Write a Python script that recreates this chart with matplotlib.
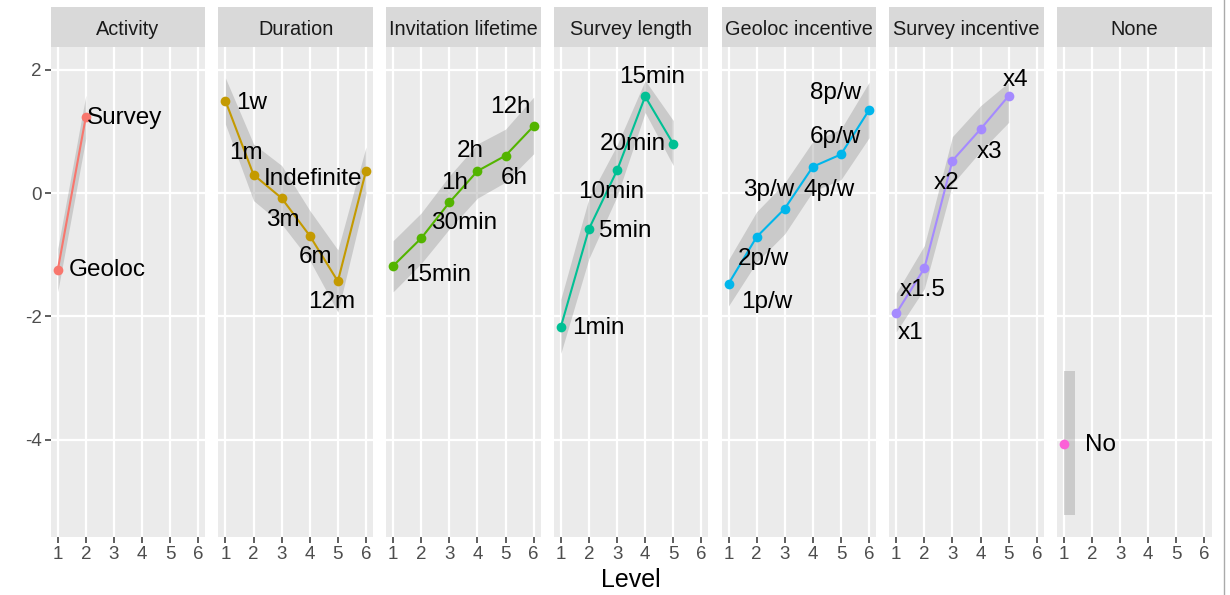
# imports
import numpy as np
import matplotlib.pyplot as plt
from matplotlib.lines import Line2D

plt.rcParams['font.family'] = ['Liberation Sans', 'DejaVu Sans']
plt.rcParams['axes.unicode_minus'] = False

# data: effect estimate per attribute level, with lower/upper band
facets = ['Activity', 'Duration', 'Invitation lifetime', 'Survey length',
          'Geoloc incentive', 'Survey incentive', 'None']
colors = ['#F8766D', '#C49A00', '#53B400', '#00C094', '#00B6EB', '#A58AFF', '#FB61D7']

activity_labels = ['Geoloc', 'Survey']
activity_est = [-1.25, 1.24]
activity_lo = [-1.60, 0.89]
activity_hi = [-0.90, 1.59]

duration_labels = ['1w', '1m', '3m', '6m', '12m', 'Indefinite']
duration_est = [1.50, 0.30, -0.08, -0.69, -1.43, 0.36]
duration_lo = [1.12, -0.12, -0.50, -1.09, -1.93, -0.02]
duration_hi = [1.87, 0.80, 0.45, -0.28, -0.92, 0.75]

invitation_labels = ['15min', '30min', '1h', '2h', '6h', '12h']
invitation_est = [-1.18, -0.73, -0.15, 0.36, 0.61, 1.09]
invitation_lo = [-1.60, -1.14, -0.58, -0.08, 0.18, 0.64]
invitation_hi = [-0.77, -0.32, 0.28, 0.80, 1.04, 1.56]

length_labels = ['1min', '5min', '10min', '15min', '20min']
length_est = [-2.17, -0.58, 0.37, 1.57, 0.80]
length_lo = [-2.60, -1.06, -0.05, 1.31, 0.45]
length_hi = [-1.72, -0.08, 0.78, 1.83, 1.18]

geoloc_labels = ['1p/w', '2p/w', '3p/w', '4p/w', '6p/w', '8p/w']
geoloc_est = [-1.47, -0.71, -0.25, 0.43, 0.63, 1.35]
geoloc_lo = [-1.83, -1.12, -0.66, 0.03, 0.22, 0.90]
geoloc_hi = [-1.08, -0.30, 0.17, 0.84, 1.04, 1.80]

incentive_labels = ['x1', 'x1.5', 'x2', 'x3', 'x4']
incentive_est = [-1.95, -1.22, 0.53, 1.04, 1.58]
incentive_lo = [-2.25, -1.55, 0.15, 0.68, 1.15]
incentive_hi = [-1.62, -0.85, 0.92, 1.42, 1.80]

none_labels = ['No']
none_est = [-4.07]
none_lo = [-5.22]
none_hi = [-2.88]

# label nudges in pixels (right, down) from each point
nudges = [
    [(50, 0), (39, 1)],
    [(26, 2), (-8, -22), (1, 22), (6, 21), (-6, 21), (-53, 8)],
    [(45, 9), (43, -15), (5, -19), (-7, -20), (9, 22), (-23, -19)],
    [(38, 1), (36, 2), (-6, 22), (7, -19), (-40, 0)],
    [(38, 18), (7, 22), (-16, -19), (16, 23), (-6, -17), (-34, -17)],
    [(14, 20), (-2, 22), (-6, 22), (9, 23), (7, -16)],
    [(37, 1)],
]

series = [
    (activity_labels, activity_est, activity_lo, activity_hi),
    (duration_labels, duration_est, duration_lo, duration_hi),
    (invitation_labels, invitation_est, invitation_lo, invitation_hi),
    (length_labels, length_est, length_lo, length_hi),
    (geoloc_labels, geoloc_est, geoloc_lo, geoloc_hi),
    (incentive_labels, incentive_est, incentive_lo, incentive_hi),
    (none_labels, none_est, none_lo, none_hi),
]

# layout in pixels
W, H = 1230, 595
left0, pw, gap = 50.7, 154.6, 13.1
top, bottom, strip_top = 46.7, 536.7, 7.3

fig = plt.figure(figsize=(W / 100, H / 100), dpi=100)

for i, (name, col, (labs, est, lo, hi), nud) in enumerate(zip(facets, colors, series, nudges)):
    x0 = left0 + i * (pw + gap)
    ax = fig.add_axes([x0 / W, 1 - bottom / H, pw / W, (bottom - top) / H])
    ax.set_facecolor('#EBEBEB')
    for s in ax.spines.values():
        s.set_visible(False)
    ax.set_xlim(0.75, 6.25)
    ax.set_ylim(-5.575, 2.378)
    ax.set_xticks(range(1, 7))
    ax.set_yticks([-4, -2, 0, 2])
    ax.grid(color='white', lw=1.6)
    ax.set_axisbelow(True)
    ax.tick_params(color='#333333', labelcolor='#4D4D4D', labelsize=13.5,
                   length=4, width=1.1, pad=2.5)
    if i > 0:
        ax.tick_params(axis='y', left=False, labelleft=False)

    lv = np.arange(1, len(est) + 1)
    lo = np.array(lo)
    hi = np.array(hi)
    if len(est) > 1:
        ax.fill_between(lv, lo, hi, color='#999999', alpha=0.4, lw=0)
    else:
        ax.bar(lv, hi - lo, bottom=lo, width=0.4, align='edge',
               color='#999999', alpha=0.4, lw=0)
    ax.plot(lv, est, color=col, lw=1.5, marker='o', ms=7, mew=0)

    for x, y, lab, (dx, dy) in zip(lv, est, labs, nud):
        ax.annotate(lab, (x, y), xytext=(dx * 0.72, -dy * 0.72),
                    textcoords='offset points', ha='center', va='center',
                    fontsize=17.5, color='black')

    # facet strip
    st = fig.add_axes([x0 / W, 1 - top / H, pw / W, (top - strip_top) / H])
    st.set_facecolor('#D9D9D9')
    st.set_xticks([])
    st.set_yticks([])
    for s in st.spines.values():
        s.set_visible(False)
    st.text(0.5, 0.44, name, ha='center', va='center', fontsize=14.3,
            color='#1A1A1A', transform=st.transAxes)

fig.text((left0 + 3.5 * pw + 3 * gap) / W, 1 - 580 / H, 'Level',
         ha='center', va='center', fontsize=18, color='black')
fig.add_artist(Line2D([1224 / W, 1224 / W], [0, 1], color='#AAAAAA', lw=1))

plt.savefig('out.png', dpi=100)
